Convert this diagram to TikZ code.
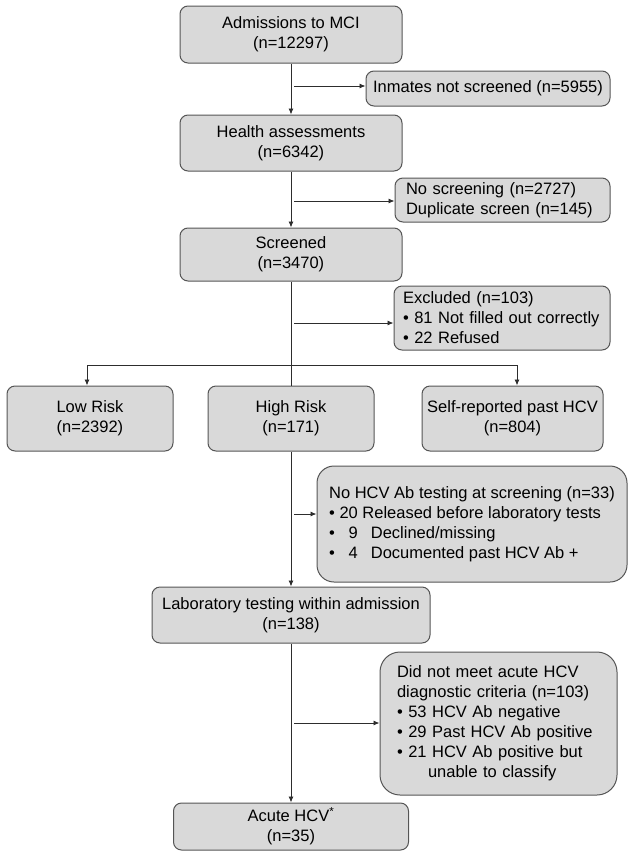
\documentclass[tikz,border=0pt]{standalone}
\usepackage{fontspec}
\setmainfont{Liberation Sans}
\usepackage{tikz}
\usetikzlibrary{arrows.meta}
\definecolor{boxfill}{RGB}{217,217,217}
\definecolor{boxline}{RGB}{85,85,85}
\definecolor{linecol}{RGB}{45,45,45}
\begin{document}
\begin{tikzpicture}[x=1pt,y=-1pt,
  every node/.style={font=\fontsize{16.5}{20}\selectfont},
  box/.style={draw=boxline,fill=boxfill,line width=1pt,rounded corners=8pt,align=center,inner sep=0pt},
  sidebox/.style={box,align=left,inner xsep=11pt},
  flowline/.style={draw=linecol,line width=0.9pt},
  flowarrow/.style={flowline,-{Latex[length=6pt,width=5pt]}}]
  \useasboundingbox (0,0) rectangle (629,857);
  \node[box,minimum width=222pt,minimum height=57pt] (1) at (291,34.5) {Admissions to MCI\\(n=12297)};
  \node[box,minimum width=244pt,minimum height=35pt] (2) at (488,88.5) {Inmates not screened (n=5955)};
  \node[box,minimum width=222pt,minimum height=56pt] (3) at (291,143) {Health assessments\\(n=6342)};
  \node[sidebox,text width=193pt,minimum height=44pt] (4) at (502.5,200) {No screening (n=2727)\\Duplicate screen (n=145)};
  \node[box,minimum width=222pt,minimum height=53pt] (5) at (291,254.5) {Screened\\(n=3470)};
  \node[sidebox,text width=198pt,inner xsep=9pt,minimum height=64pt] (6) at (502,318) {Excluded (n=103)\\• 81 Not filled out correctly\\• 22 Refused};
  \node[box,minimum width=166pt,minimum height=65pt] (7) at (90,418.5) {Low Risk\\(n=2392)};
  \node[box,minimum width=166pt,minimum height=65pt] (8) at (291,418.5) {High Risk\\(n=171)};
  \node[box,minimum width=181pt,minimum height=65pt] (9) at (512.5,418.5) {Self-reported past HCV\\(n=804)};
  \node[sidebox,rounded corners=17pt,minimum width=310pt,minimum height=116pt] (10) at (472,524) {No HCV Ab testing at screening (n=33)\\• 20 Released before laboratory tests\\• \phantom{2}9\hspace{13pt}Declined/missing\\• \phantom{2}4\hspace{13pt}Documented past HCV Ab +};
  \node[box,minimum width=278pt,minimum height=56pt] (11) at (291,615) {Laboratory testing within admission\\(n=138)};
  \node[sidebox,rounded corners=20pt,text width=203pt,inner xsep=17pt,minimum height=143pt] (12) at (498.5,723.5) {Did not meet acute HCV\\diagnostic criteria (n=103)\\• 53 HCV Ab negative\\• 29 Past HCV Ab positive\\• 21 HCV Ab positive but\\\hspace*{31pt}unable to classify};
  \node[box,minimum width=235pt,minimum height=47pt] (13) at (291,826.5) {Acute HCV\textsuperscript{*}\\(n=35)};
  \coordinate (a) at (291,86);
  \coordinate (b) at (291,201);
  \coordinate (c) at (291,323);
  \coordinate (d) at (291,514);
  \coordinate (e) at (291,723);
  \coordinate (l) at (87,365);
  \coordinate (r) at (517,365);
  \draw[flowarrow](1)--(3);
  \draw[flowarrow](3)--(5);
  \draw[flowline](5)--(8);
  \draw[flowarrow](8)--(11);
  \draw[flowarrow](11)--(13);
  \draw[flowarrow,shorten <=3pt](a)--(a-|2.west);
  \draw[flowarrow,shorten <=3pt](b)--(b-|4.west);
  \draw[flowarrow,shorten <=3pt](c)--(c-|6.west);
  \draw[flowarrow,shorten <=3pt](d)--(d-|10.west);
  \draw[flowarrow,shorten <=3pt](e)--(e-|12.west);
  \draw[flowline](l)--(r);
  \draw[flowarrow](l)--(l|-7.north);
  \draw[flowarrow](r)--(r|-9.north);
\end{tikzpicture}
\end{document}
